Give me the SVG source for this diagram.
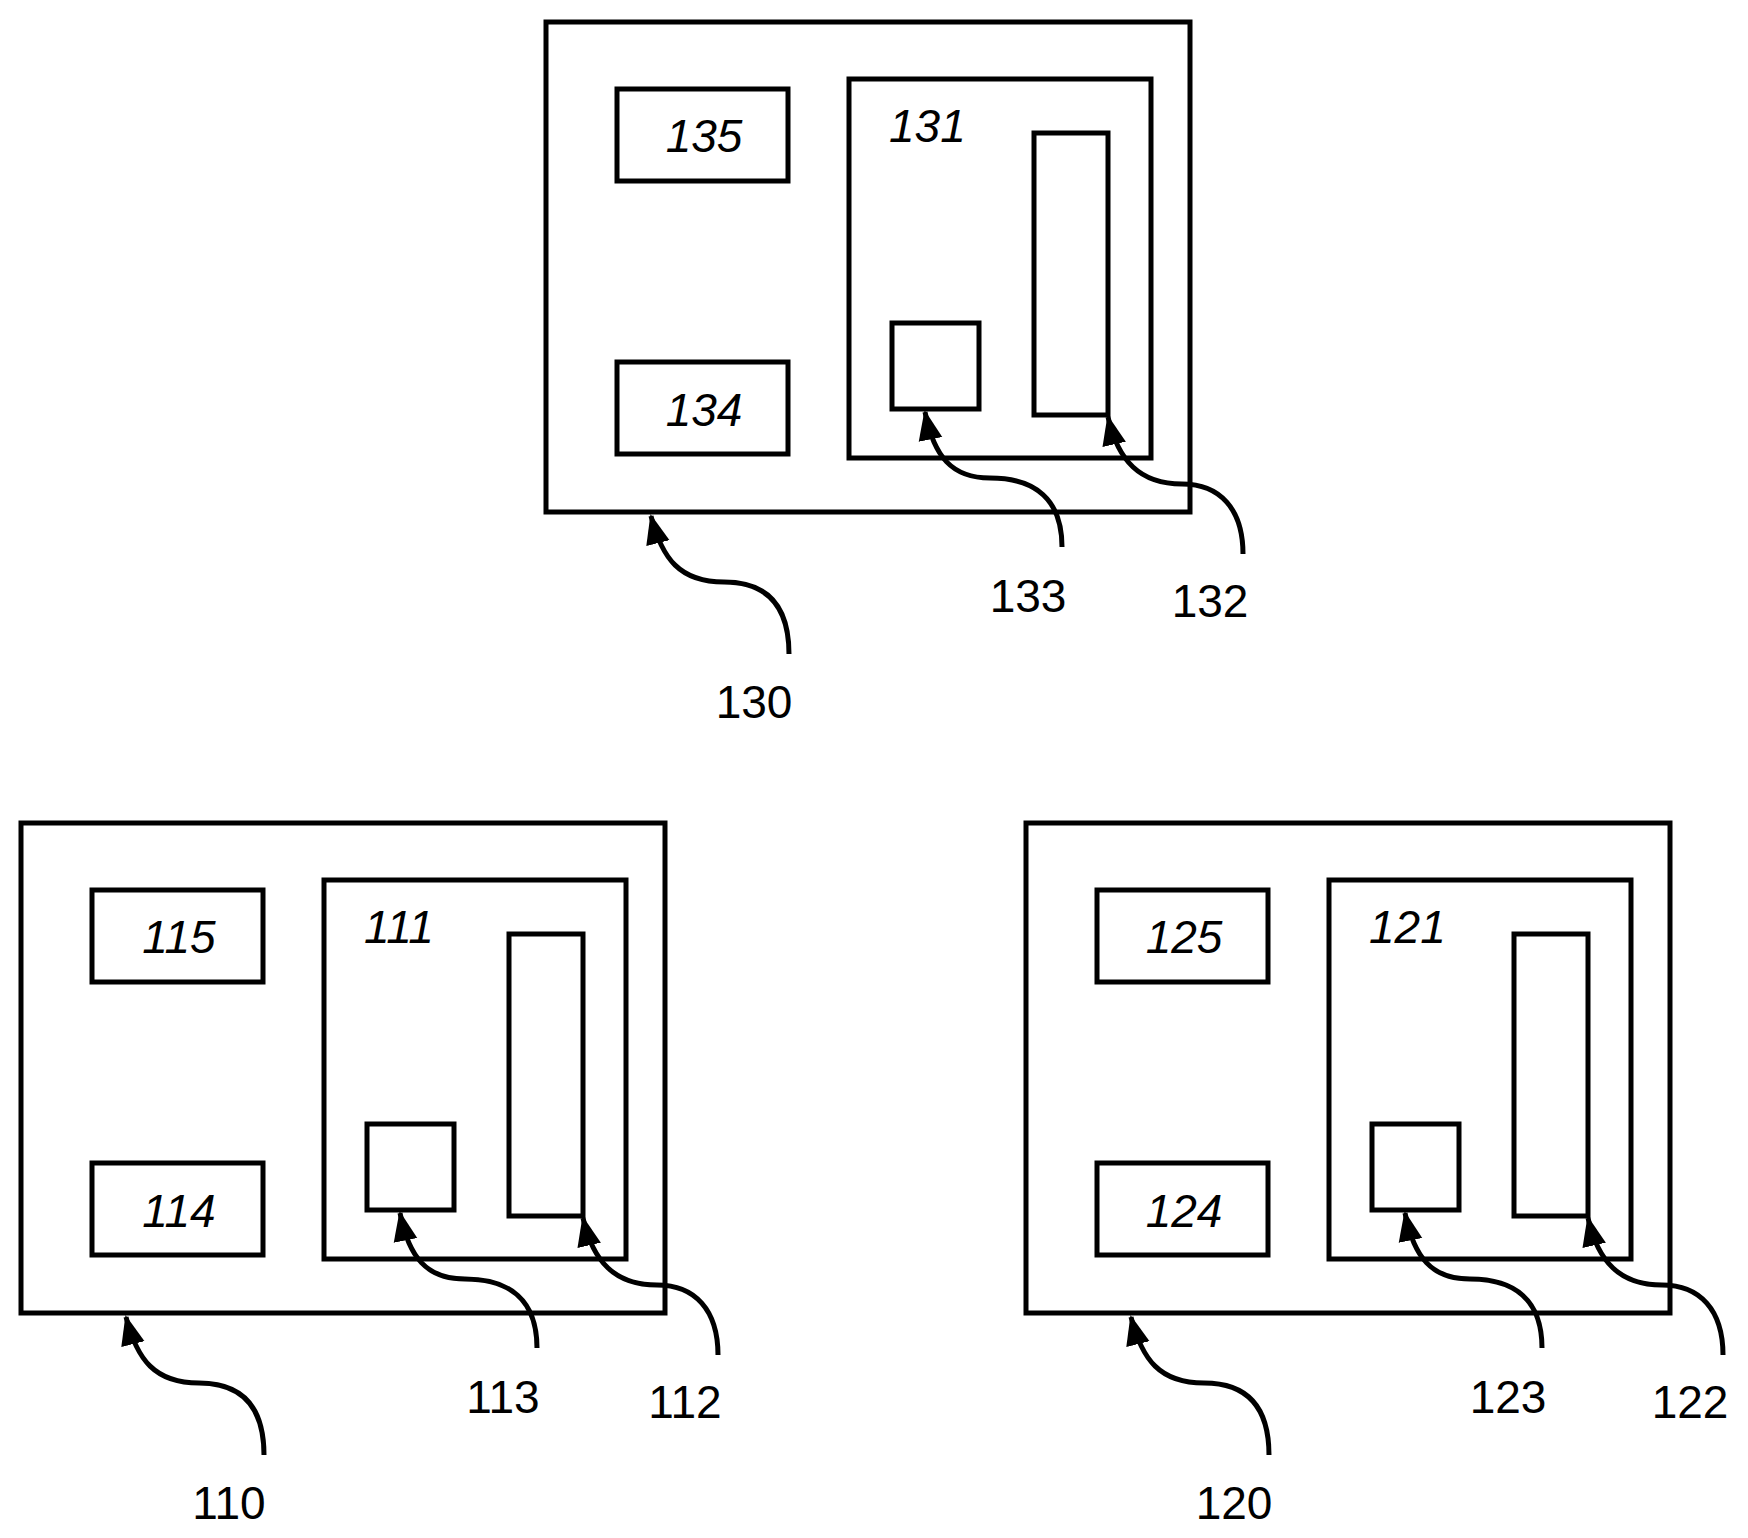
<svg xmlns="http://www.w3.org/2000/svg" width="1748" height="1538" viewBox="0 0 1748 1538">
<style>
.b{fill:none;stroke:#000;stroke-width:5}
.c{fill:none;stroke:#000;stroke-width:5}
.t{font-family:"Liberation Sans",Arial,sans-serif;font-size:46px;fill:#000}
.i{font-style:italic;text-anchor:middle}
.n{text-anchor:middle}
</style>
<defs>
<marker id="ah" markerUnits="userSpaceOnUse" markerWidth="30" markerHeight="30" viewBox="0 0 30 30" refX="28" refY="15" orient="auto">
<path d="M0,3 L30,15 L0,27 Z" fill="#000"/>
</marker>
<g id="unit">
<rect class="b" x="1026" y="823" width="644" height="490"/>
<rect class="b" x="1097" y="890" width="171" height="92"/>
<rect class="b" x="1097" y="1163" width="171" height="92"/>
<rect class="b" x="1329" y="880" width="302" height="379"/>
<rect class="b" x="1514" y="934" width="74" height="282"/>
<rect class="b" x="1372" y="1124" width="87" height="86"/>
</g>
</defs>
<g id="node130" transform="translate(-480,-801)">
<use href="#unit"/>
<text class="t i" x="1184" y="953">135</text>
<text class="t i" x="1184" y="1227">134</text>
<text class="t" font-style="italic" x="1369" y="943">131</text>
<text class="t n" x="1234" y="1519">130</text>
<text class="t n" x="1508" y="1413">133</text>
<text class="t n" x="1690" y="1418">132</text>
</g>
<g id="node110" transform="translate(-1005,0)">
<use href="#unit"/>
<text class="t i" x="1184" y="953">115</text>
<text class="t i" x="1184" y="1227">114</text>
<text class="t" font-style="italic" x="1369" y="943">111</text>
<text class="t n" x="1234" y="1519">110</text>
<text class="t n" x="1508" y="1413">113</text>
<text class="t n" x="1690" y="1418">112</text>
</g>
<g id="node120">
<use href="#unit"/>
<text class="t i" x="1184" y="953">125</text>
<text class="t i" x="1184" y="1227">124</text>
<text class="t" font-style="italic" x="1369" y="943">121</text>
<text class="t n" x="1234" y="1519">120</text>
<text class="t n" x="1508" y="1413">123</text>
<text class="t n" x="1690" y="1418">122</text>
</g>
<g id="connectors">
<g id="leaders">
<path class="c" marker-end="url(#ah)" d="M1542,1348 C1542,1300 1515,1279 1470,1279 C1432,1279 1414,1258 1405,1213"/>
<path class="c" marker-end="url(#ah)" d="M1723,1355 C1723,1310 1700,1285 1662,1285 C1620,1285 1598,1262 1588,1218"/>
<path class="c" marker-end="url(#ah)" d="M1269,1455 C1269,1410 1250,1383 1204,1383 C1160,1383 1142,1360 1131,1317"/>
</g>
<use href="#leaders" transform="translate(-480,-801)"/>
<use href="#leaders" transform="translate(-1005,0)"/>
</g>
</svg>
